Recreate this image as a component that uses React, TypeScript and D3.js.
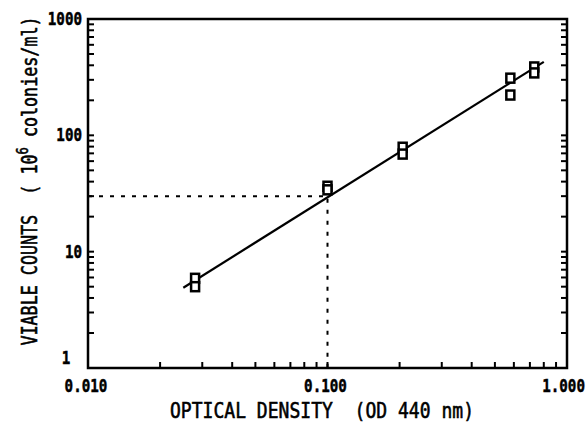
import React, { useEffect, useRef } from "react";
import * as d3 from "d3";

// measured points (optical density vs viable counts, 10^6 colonies/ml)
const odValues = [0.028, 0.028, 0.1, 0.1, 0.206, 0.206, 0.58, 0.58, 0.73, 0.73];
const viableCounts = [5.9, 5.0, 36.5, 34, 79, 69, 310, 222, 387, 344];
// fitted regression line end points
const fitOD = [0.025, 0.8];
const fitCounts = [4.9, 428];
// reference reading
const refOD = 0.1;
const refCount = 30;
const xTickLabels = ["0.010", "0.100", "1.000"];
const yTickLabels = ["1", "10", "100", "1000"];

const W = 587;
const H = 428;

const App = () => {
  const svgRef = useRef<SVGSVGElement>(null);

  useEffect(() => {
    if (!svgRef.current) return;
    const svg = d3.select(svgRef.current);
    svg.selectAll("*").remove();

    const left = 88, right = 567, top = 19, bottom = 368;
    const x = d3.scaleLog().domain([0.01, 1]).range([left, right]);
    const y = d3.scaleLog().domain([1, 1000]).range([bottom, top]);
    const mono = "'DejaVu Sans Mono', monospace";

    // dotted reference lines
    svg.append("path")
      .attr("d", `M${left},${y(refCount)}H${x(refOD)}V${bottom}`)
      .attr("fill", "none")
      .attr("stroke", "#000")
      .attr("stroke-width", 2)
      .attr("stroke-dasharray", "4 7");

    // ticks (inward) on left, right and bottom
    const tl = 6;
    const ticks = svg.append("g").attr("stroke", "#000").attr("stroke-width", 2);
    y.ticks().forEach(v => {
      ticks.append("line").attr("x1", left).attr("x2", left + tl).attr("y1", y(v)).attr("y2", y(v));
      ticks.append("line").attr("x1", right).attr("x2", right - tl).attr("y1", y(v)).attr("y2", y(v));
    });
    x.ticks().forEach(v => {
      ticks.append("line").attr("x1", x(v)).attr("x2", x(v)).attr("y1", bottom).attr("y2", bottom - tl);
    });

    // frame
    svg.append("rect")
      .attr("x", left).attr("y", top)
      .attr("width", right - left).attr("height", bottom - top)
      .attr("fill", "none").attr("stroke", "#000").attr("stroke-width", 2.5);

    // fitted line
    const line = d3.line<number>()
      .x((_, i) => x(fitOD[i]))
      .y(d => y(d));
    svg.append("path")
      .attr("d", line(fitCounts))
      .attr("fill", "none")
      .attr("stroke", "#000")
      .attr("stroke-width", 2.2);

    // points
    svg.append("g").selectAll("rect")
      .data(viableCounts)
      .join("rect")
      .attr("x", (_, i) => x(odValues[i]) - 4)
      .attr("y", d => y(d) - 4.5)
      .attr("width", 8)
      .attr("height", 9)
      .attr("fill", "#fff")
      .attr("stroke", "#000")
      .attr("stroke-width", 2.5);

    // tick labels (condensed with a horizontal scale)
    const label = (tx: number, ty: number, anchor: string, t: string) =>
      svg.append("g")
        .attr("transform", `translate(${tx},${ty}) scale(0.79,1)`)
        .append("text")
        .attr("text-anchor", anchor)
        .attr("font-family", mono)
        .attr("font-weight", "bold")
        .attr("font-size", 18)
        .attr("stroke", "#000")
        .attr("stroke-width", 0.5)
        .text(t);

    const xVals = [0.01, 0.1, 1];
    xTickLabels.forEach((t, i) => {
      const last = i === xTickLabels.length - 1;
      label(last ? 585 : x(xVals[i]) - 2, 392, last ? "end" : "middle", t);
    });
    const yVals = [1, 10, 100, 1000];
    yTickLabels.forEach((t, i) => {
      const isOne = yVals[i] === 1;
      label(isOne ? 66 : 82, isOne ? 364 : y(yVals[i]) + 6, isOne ? "middle" : "end", t);
    });

    // axis titles
    svg.append("g")
      .attr("transform", "translate(322,418) scale(0.82,1)")
      .append("text")
      .attr("text-anchor", "middle")
      .attr("font-family", mono)
      .attr("font-size", 22)
      .attr("stroke", "#000")
      .attr("stroke-width", 0.6)
      .style("white-space", "pre")
      .text("OPTICAL DENSITY  (OD 440 nm)");

    const yt = svg.append("g")
      .attr("transform", "translate(37,181) rotate(-90) scale(0.76,1)")
      .append("text")
      .attr("text-anchor", "middle")
      .attr("font-family", mono)
      .attr("font-size", 22)
      .attr("stroke", "#000")
      .attr("stroke-width", 0.6)
      .style("white-space", "pre");
    yt.append("tspan").text("VIABLE COUNTS  ( 10");
    yt.append("tspan").attr("dy", -9).attr("font-size", 16).text("6");
    yt.append("tspan").attr("dy", 9).text(" colonies/ml)");
  }, []);

  return (
    <svg
      ref={svgRef}
      width={W}
      height={H}
      style={{ position: "absolute", left: 0, top: 0, background: "#fff" }}
    />
  );
};

export default App;
